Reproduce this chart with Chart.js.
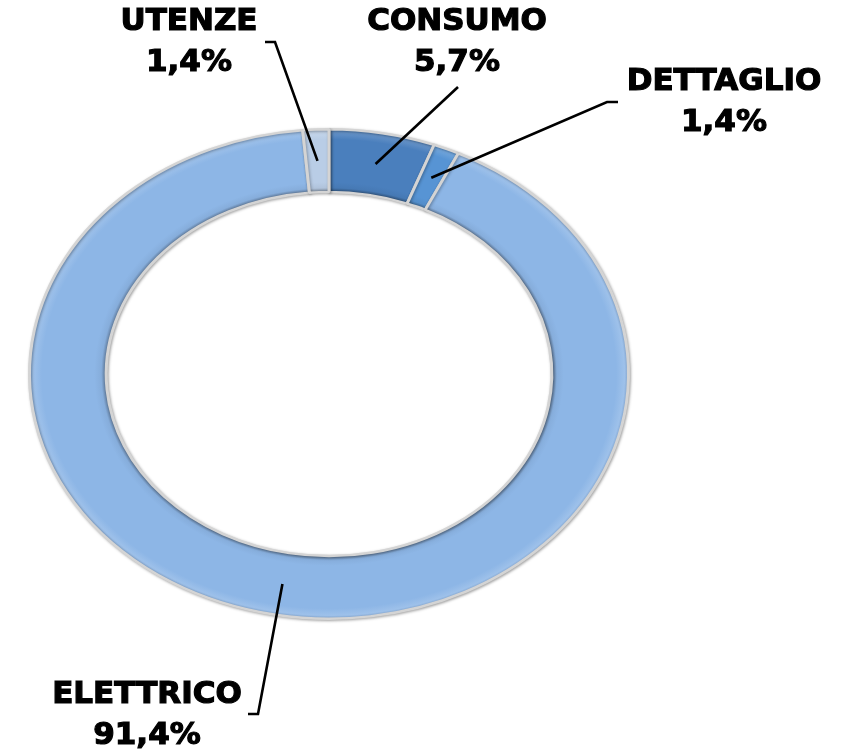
<!DOCTYPE html>
<html>
<head>
<meta charset="utf-8">
<script src="https://cdn.jsdelivr.net/npm/chart.js@4.4.1/dist/chart.umd.min.js"></script>
<style>
  html, body { margin: 0; padding: 0; background: #fff; }
  #wrap { width: 843px; height: 751px; }
</style>
</head>
<body>
<div id="wrap"><canvas id="chartSettori" width="843" height="751"></canvas></div>
<script>
// dati, in senso orario partendo dall'alto
const categorie = ['CONSUMO', 'DETTAGLIO', 'ELETTRICO', 'UTENZE'];
const valori = [5.7, 1.4, 91.4, 1.4];
const colori = ['#4A7FBD', '#5794D4', '#8DB6E6', '#B9CDE6'];

// posizione delle etichette (centro testo) e aggancio della linea guida
const posEtichette = {
    'UTENZE':    { x: 189, y: 22, hook: [[265, 42], [275, 42]] },
    'CONSUMO':   { x: 457, y: 22, hook: [[458, 87]] },
    'DETTAGLIO': { x: 724, y: 82, hook: [[618, 102], [607, 102]] },
    'ELETTRICO': { x: 147, y: 695, hook: [[248, 714], [258, 714]] }
};

const CENTRO_Y = 374;
const SCALA_Y = 0.817;
const CUTOUT = 0.744;

function sfuma(hex, amt) {
    const n = parseInt(hex.slice(1), 16);
    let r = (n >> 16) & 255, g = (n >> 8) & 255, b = n & 255;
    const f = v => Math.max(0, Math.min(255, Math.round(amt >= 0 ? v + (255 - v) * amt : v * (1 + amt))));
    return `rgb(${f(r)},${f(g)},${f(b)})`;
}

function riempimento(context) {
    const chart = context.chart;
    const area = chart.chartArea;
    const base = colori[context.dataIndex];
    if (!area) return base;
    const cx = (area.left + area.right) / 2;
    const cy = (area.top + area.bottom) / 2;
    const rOut = Math.min(area.right - area.left, area.bottom - area.top) / 2;
    const rIn = rOut * CUTOUT;
    const g = chart.ctx.createRadialGradient(cx, cy, rIn, cx, cy, rOut);
    g.addColorStop(0, sfuma(base, -0.3));
    g.addColorStop(0.05, sfuma(base, -0.05));
    g.addColorStop(0.14, base);
    g.addColorStop(0.82, base);
    g.addColorStop(0.93, sfuma(base, 0.15));
    g.addColorStop(1, sfuma(base, -0.08));
    return g;
}

function percentuale(v) {
    return v.toFixed(1).replace('.', ',') + '%';
}

const ellissePlugin = {
    id: 'ellisse',
    beforeDatasetsDraw(chart) {
        const arc = chart.getDatasetMeta(0).data[0];
        const ctx = chart.ctx;
        ctx.save();
        ctx.translate(0, CENTRO_Y);
        ctx.scale(1, SCALA_Y);
        ctx.translate(0, -arc.y);
        ctx.shadowColor = 'rgba(0,0,0,0.3)';
        ctx.shadowBlur = 3;
        ctx.shadowOffsetX = 1;
        ctx.shadowOffsetY = 1;
    },
    afterDatasetsDraw(chart) {
        chart.ctx.restore();
    },
    afterDraw(chart) {
        const ctx = chart.ctx;
        const meta = chart.getDatasetMeta(0);
        ctx.save();
        ctx.font = 'bold 31px "DejaVu Sans"';
        ctx.textAlign = 'center';
        ctx.textBaseline = 'middle';
        ctx.fillStyle = '#000';
        ctx.strokeStyle = '#000';
        meta.data.forEach((arc, i) => {
            const nome = categorie[i];
            const p = posEtichette[nome];
            const ang = (arc.startAngle + arc.endAngle) / 2;
            const r = (arc.innerRadius + arc.outerRadius) / 2;
            const ax = arc.x + Math.cos(ang) * r;
            const ay = CENTRO_Y + Math.sin(ang) * r * SCALA_Y;
            ctx.lineWidth = 2.6;
            ctx.beginPath();
            ctx.moveTo(p.hook[0][0], p.hook[0][1]);
            for (let k = 1; k < p.hook.length; k++) ctx.lineTo(p.hook[k][0], p.hook[k][1]);
            ctx.lineTo(ax, ay);
            ctx.stroke();
            ctx.lineWidth = 1.2;
            const perc = percentuale(valori[i]);
            ctx.fillText(nome, p.x, p.y);
            ctx.strokeText(nome, p.x, p.y);
            ctx.fillText(perc, p.x, p.y + 41);
            ctx.strokeText(perc, p.x, p.y + 41);
        });
        ctx.restore();
    }
};

new Chart(document.getElementById('chartSettori'), {
    type: 'doughnut',
    data: {
        labels: categorie,
        datasets: [{
            data: valori,
            backgroundColor: riempimento,
            borderColor: '#D4D4D4',
            borderWidth: 3,
            hoverOffset: 0
        }]
    },
    options: {
        responsive: false,
        animation: false,
        cutout: (CUTOUT * 100) + '%',
        layout: { padding: { left: 28, right: 213, top: 74, bottom: 75 } },
        plugins: { legend: { display: false }, tooltip: { enabled: false } }
    },
    plugins: [ellissePlugin]
});
</script>
</body>
</html>
